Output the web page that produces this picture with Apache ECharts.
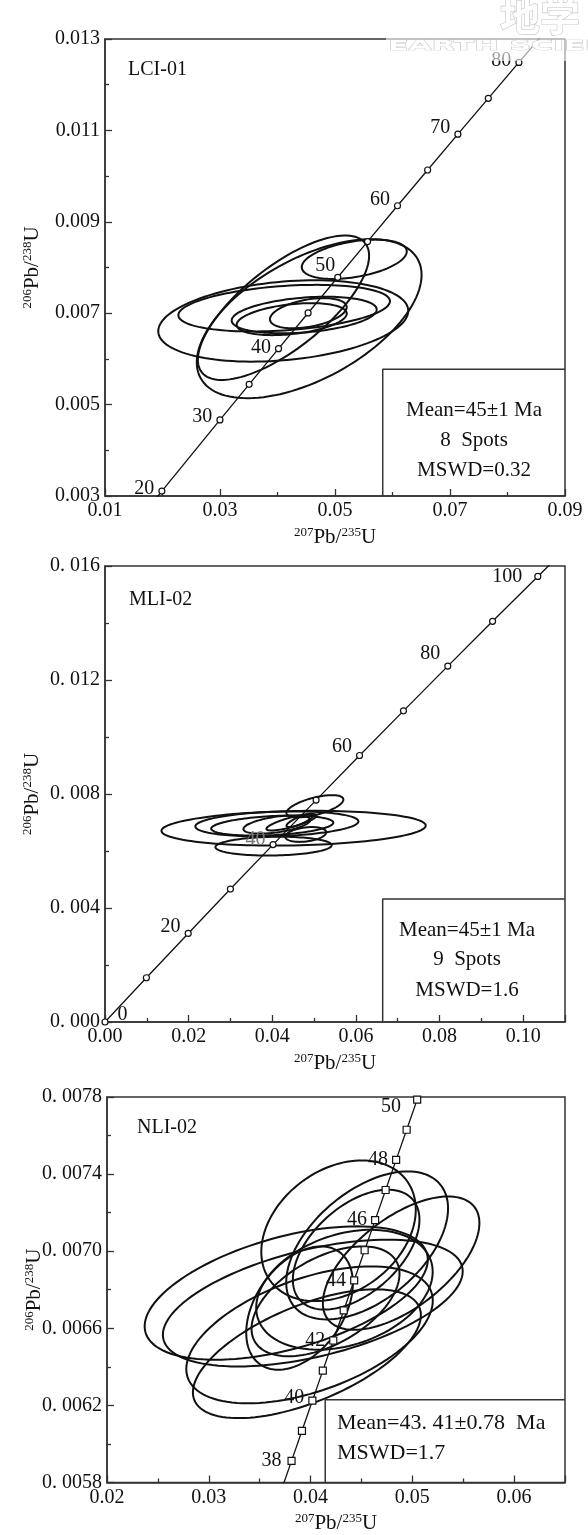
<!DOCTYPE html>
<html>
<head>
<meta charset="utf-8">
<script src="https://cdn.jsdelivr.net/npm/echarts@6/dist/echarts.min.js"></script>
<style>
  html, body { margin: 0; padding: 0; background: #fff; }
  #main { width: 588px; height: 1535px; }
</style>
</head>
<body>
<div id="main"></div>
<script>
// ==================== 数据 ====================

// LCI-01：谐和线刻度（年龄 Ma 与对应比值）
const lciAges = [20, 30, 35, 40, 45, 50, 55, 60, 65, 70, 75, 80];
const lciX = [0.01989, 0.02999, 0.03507, 0.04018, 0.04532, 0.05048, 0.05566, 0.06087, 0.06611, 0.07137, 0.07666, 0.08198];
const lciY = [0.003107, 0.004665, 0.005444, 0.006224, 0.007005, 0.007786, 0.008568, 0.009351, 0.010134, 0.010918, 0.011702, 0.012487];
const lciTagged = [20, 30, 40, 50, 60, 70, 80];
const lciTail = [[0.01855, 0.0029], [0.0868, 0.0132]];
// LCI-01：误差椭圆（中心、x/y 半宽、相关系数）
const lciCx = [0.05335, 0.04104, 0.04551, 0.04100, 0.04116, 0.04464, 0.04247, 0.04536];
const lciCy = [0.00818, 0.00712, 0.00688, 0.00683, 0.00711, 0.00696, 0.00687, 0.00700];
const lciSx = [0.00913, 0.01489, 0.01955, 0.02174, 0.01840, 0.01261, 0.00957, 0.00667];
const lciSy = [0.00043, 0.00158, 0.00174, 0.00089, 0.00051, 0.00040, 0.00035, 0.00033];
const lciRho = [0.40, 0.72, 0.55, 0.25, 0.30, 0.30, 0.35, 0.40];
const lciBox = [0.0583, 0.005775];
const lciNotes = ['Mean=45±1 Ma', '8  Spots', 'MSWD=0.32'];

// MLI-02
const mliAges = [0, 10, 20, 30, 40, 50, 60, 70, 80, 90, 100];
const mliX = [0, 0.009897, 0.019892, 0.029986, 0.04018, 0.050475, 0.060872, 0.071372, 0.081975, 0.092683, 0.1035];
const mliY = [0, 0.0015525, 0.0031073, 0.0046646, 0.0062243, 0.0077864, 0.0093509, 0.010918, 0.012487, 0.014059, 0.015633];
const mliTagged = [0, 20, 40, 60, 80, 100];
const mliTail = [null, [0.1074, 0.0162]];
const mliCx = [0.0451, 0.0411, 0.0400, 0.0403, 0.0502, 0.0411, 0.0446, 0.0480, 0.0466];
const mliCy = [0.00680, 0.00695, 0.00689, 0.00617, 0.00757, 0.00693, 0.00701, 0.00658, 0.00707];
const mliSx = [0.0316, 0.0195, 0.0146, 0.0139, 0.0068, 0.0080, 0.0060, 0.0049, 0.0032];
const mliSy = [0.00061, 0.00044, 0.00035, 0.00033, 0.00039, 0.00032, 0.00029, 0.00026, 0.00023];
const mliRho = [0.15, 0.2, 0.3, 0.1, 0.6, 0.5, 0.8, 0.3, 0.8];
const mliBox = [0.0664, 0.00432];
const mliNotes = ['Mean=45±1 Ma', '9  Spots', 'MSWD=1.6'];

// NLI-02
const nliAges = [38, 39, 40, 41, 42, 43, 44, 45, 46, 47, 48, 49, 50];
const nliX = [0.038133, 0.039156, 0.04018, 0.041205, 0.042232, 0.043258, 0.044286, 0.045315, 0.046345, 0.047376, 0.048408, 0.049441, 0.050475];
const nliY = [0.0059122, 0.0060682, 0.0062243, 0.0063804, 0.0065366, 0.0066927, 0.0068489, 0.007005, 0.0071613, 0.0073175, 0.0074738, 0.0076301, 0.0077864];
const nliTagged = [38, 40, 42, 44, 46, 48, 50];
const nliTail = [[0.03673, 0.0057], [0.05123, 0.0079]];
const nliCx = [0.04275, 0.04556, 0.0489, 0.03761, 0.04022, 0.0399, 0.03964, 0.03892, 0.04147, 0.04333, 0.04448];
const nliCy = [0.007106, 0.00703, 0.006938, 0.006783, 0.006731, 0.006566, 0.006468, 0.006705, 0.00674, 0.0068, 0.007008];
const nliSx = [0.00759, 0.00795, 0.00769, 0.01391, 0.01473, 0.01211, 0.0112, 0.00524, 0.00727, 0.00867, 0.00622];
const nliSy = [0.000365, 0.000384, 0.000346, 0.000346, 0.000329, 0.000355, 0.000334, 0.00032, 0.000285, 0.000311, 0.000311];
const nliRho = [0.3, 0.5, 0.6, 0.5, 0.5, 0.5, 0.6, 0.4, 0.5, 0.3, 0.5];
const nliBox = [0.04144, 0.006229];
const nliNotes = ['Mean=43. 41±0.78  Ma', 'MSWD=1.7'];

// ==================== 样式 ====================

const FONT = 'Liberation Serif';
const INK = '#111';
const FRAME = '#333';

const grids = [
  { left: 105, top: 39, width: 460, height: 457 },
  { left: 105, top: 566, width: 460, height: 456 },
  { left: 107, top: 1097, width: 458, height: 386 }
];

const ratioRich = {
  s: { fontSize: 13, fontFamily: FONT, color: INK, padding: [0, 0, 9, 0] }
};

function xAxisOf(gi, min, max, interval, fmt) {
  return {
    type: 'value', gridIndex: gi, min, max, interval,
    name: '{s|207}Pb/{s|235}U', nameLocation: 'middle', nameGap: 30, nameMoveOverlap: false,
    nameTextStyle: { fontFamily: FONT, fontSize: 21, color: INK, rich: ratioRich },
    axisLine: { show: true, onZero: false, lineStyle: { color: FRAME, width: 1.5 } },
    axisTick: { show: true, inside: true, length: 7, lineStyle: { color: FRAME, width: 1.3 } },
    minorTick: { show: true, splitNumber: 2, length: 4, lineStyle: { color: FRAME, width: 1.3 } },
    splitLine: { show: false },
    axisLabel: { margin: 5, fontFamily: FONT, fontSize: 20, color: INK, formatter: fmt }
  };
}

function yAxisOf(gi, min, max, interval, fmt) {
  return {
    type: 'value', gridIndex: gi, min, max, interval,
    name: '{s|206}Pb/{s|238}U', nameLocation: 'middle', nameGap: 62, nameMoveOverlap: false,
    nameTextStyle: { fontFamily: FONT, fontSize: 21, color: INK, rich: ratioRich },
    axisLine: { show: true, onZero: false, lineStyle: { color: FRAME, width: 1.5 } },
    axisTick: { show: true, inside: true, length: 7, lineStyle: { color: FRAME, width: 1.3 } },
    minorTick: { show: true, splitNumber: 2, length: 4, lineStyle: { color: FRAME, width: 1.3 } },
    splitLine: { show: false },
    axisLabel: { margin: 5, fontFamily: FONT, fontSize: 20, color: INK, formatter: fmt }
  };
}

// 椭圆：x = cx + sx·cos t, y = cy + sy·(ρ cos t + √(1-ρ²) sin t)
function ellipseShape(params, api) {
  const cx = api.value(0), cy = api.value(1), sx = api.value(2), sy = api.value(3), r = api.value(4);
  const k = Math.sqrt(1 - r * r);
  const pts = [];
  for (let i = 0; i < 120; i++) {
    const t = i / 120 * Math.PI * 2;
    pts.push(api.coord([cx + sx * Math.cos(t), cy + sy * (r * Math.cos(t) + k * Math.sin(t))]));
  }
  return {
    type: 'polygon',
    shape: { points: pts },
    style: { fill: 'none', stroke: INK, lineWidth: 2 }
  };
}

function ellipses(gi, cx, cy, sx, sy, rho) {
  return {
    type: 'custom', xAxisIndex: gi, yAxisIndex: gi,
    data: cx.map((v, i) => [v, cy[i], sx[i], sy[i], rho[i]]),
    encode: { x: 0, y: 1 },
    renderItem: ellipseShape,
    silent: true, animation: false, z: 2
  };
}

function concordia(gi, ages, xs, ys, tagged, tail, symbol, size, tagStyle) {
  const data = ages.map((a, i) => {
    const item = { value: [xs[i], ys[i]] };
    if (tagged.includes(a)) {
      item.label = Object.assign({ show: true, formatter: String(a) }, tagStyle[a] || {});
    }
    return item;
  });
  if (tail[0]) data.unshift({ value: tail[0], symbol: 'none' });
  if (tail[1]) data.push({ value: tail[1], symbol: 'none' });
  return {
    type: 'line', xAxisIndex: gi, yAxisIndex: gi, data,
    symbol, symbolSize: size, showSymbol: true, showAllSymbol: true, clip: true,
    lineStyle: { color: INK, width: 1.3 },
    itemStyle: { color: '#fff', borderColor: INK, borderWidth: 1.2 },
    label: { position: 'left', distance: 4, fontFamily: FONT, fontSize: 20, color: INK },
    silent: true, animation: false, z: 3
  };
}

// 结果框（左边与上边，另两边与坐标框重合）
function resultBox(gi, corner, xMax, yMin) {
  return {
    type: 'line', xAxisIndex: gi, yAxisIndex: gi,
    data: [[corner[0], yMin], corner, [xMax, corner[1]]],
    symbol: 'none', lineStyle: { color: FRAME, width: 1.5 },
    silent: true, animation: false, z: 4
  };
}

function noteText(x, y, text, align, size) {
  return {
    type: 'text', x, y, z: 10,
    style: {
      text, font: (size || 21) + 'px "' + FONT + '"', fill: INK,
      align: align || 'center', verticalAlign: 'middle',
      textAlign: align || 'center', textVerticalAlign: 'middle'
    }
  };
}

const fmt3 = v => v.toFixed(3);
const fmt2 = v => v.toFixed(2);

const option = {
  backgroundColor: '#fff',
  animation: false,
  grid: grids.map(g => Object.assign({ show: true, borderColor: FRAME, borderWidth: 1.5, backgroundColor: 'transparent' }, g)),
  xAxis: [
    xAxisOf(0, 0.01, 0.09, 0.02, fmt2),
    xAxisOf(1, 0, 0.11, 0.02, v => (v > 0.105 ? '' : v.toFixed(2))),
    xAxisOf(2, 0.02, 0.065, 0.01, v => (v > 0.0625 ? '' : v.toFixed(2)))
  ],
  yAxis: [
    yAxisOf(0, 0.003, 0.013, 0.002, fmt3),
    yAxisOf(1, 0, 0.016, 0.004, v => '0. ' + v.toFixed(3).slice(2)),
    yAxisOf(2, 0.0058, 0.0078, 0.0004, v => '0. ' + v.toFixed(4).slice(2))
  ],
  series: [
    ellipses(0, lciCx, lciCy, lciSx, lciSy, lciRho),
    concordia(0, lciAges, lciX, lciY, lciTagged, lciTail, 'circle', 6, {
      20: { offset: [0, -2] }, 30: { offset: [0, -3] }, 40: { offset: [0, -1] },
      50: { offset: [5, -12] }, 60: { offset: [0, -6] }, 70: { offset: [0, -6] }, 80: { offset: [0, -2] }
    }),
    resultBox(0, lciBox, 0.09, 0.003),

    ellipses(1, mliCx, mliCy, mliSx, mliSy, mliRho),
    concordia(1, mliAges, mliX, mliY, mliTagged, mliTail, 'circle', 6, {
      0: { position: 'right', distance: 9, offset: [0, -7] },
      20: { offset: [0, -7] }, 40: { offset: [0, -5], color: '#777' }, 60: { offset: [0, -9] },
      80: { offset: [0, -12] }, 100: { distance: 12 }
    }),
    resultBox(1, mliBox, 0.11, 0),

    ellipses(2, nliCx, nliCy, nliSx, nliSy, nliRho),
    concordia(2, nliAges, nliX, nliY, nliTagged, nliTail, 'rect', 7, {
      38: { distance: 6 }, 40: { offset: [0, -3] }, 50: { distance: 12, offset: [0, 7] }
    }),
    resultBox(2, nliBox, 0.065, 0.0058)
  ],
  graphic: [
    // 样品名
    noteText(128, 70, 'LCI-01', 'left', 20),
    noteText(129, 600, 'MLI-02', 'left', 20),
    noteText(137, 1128, 'NLI-02', 'left', 20),
    // 结果说明
    noteText(474, 410, lciNotes[0]),
    noteText(474, 440, lciNotes[1]),
    noteText(474, 470, lciNotes[2]),
    noteText(467, 930, mliNotes[0]),
    noteText(467, 959, mliNotes[1]),
    noteText(467, 990, mliNotes[2]),
    noteText(337, 1423, nliNotes[0], 'left', 22),
    noteText(337, 1453, nliNotes[1], 'left', 22),
    // 水印
    {
      type: 'rect', z: 20, shape: { x: 386, y: 31, width: 202, height: 30 },
      style: { fill: 'rgba(255,255,255,0.6)' }
    },
    {
      type: 'text', z: 21, x: 388, y: 46, scaleX: 1.25, scaleY: 0.62,
      style: {
        text: 'EARTH SCIENCE', font: 'bold 24px "DejaVu Sans"', fill: '#fff', stroke: '#c4c4c4', lineWidth: 1.2,
        verticalAlign: 'middle', textVerticalAlign: 'middle'
      }
    },
    {
      type: 'text', z: 21, x: 500, y: -4,
      style: {
        text: '地学', font: 'bold 40px "Noto Sans CJK SC"', fill: '#fff', stroke: '#c4c4c4', lineWidth: 1.2
      }
    }
  ]
};

const chart = echarts.init(document.getElementById('main'), null, { renderer: 'canvas' });
chart.setOption(option);
</script>
</body>
</html>
